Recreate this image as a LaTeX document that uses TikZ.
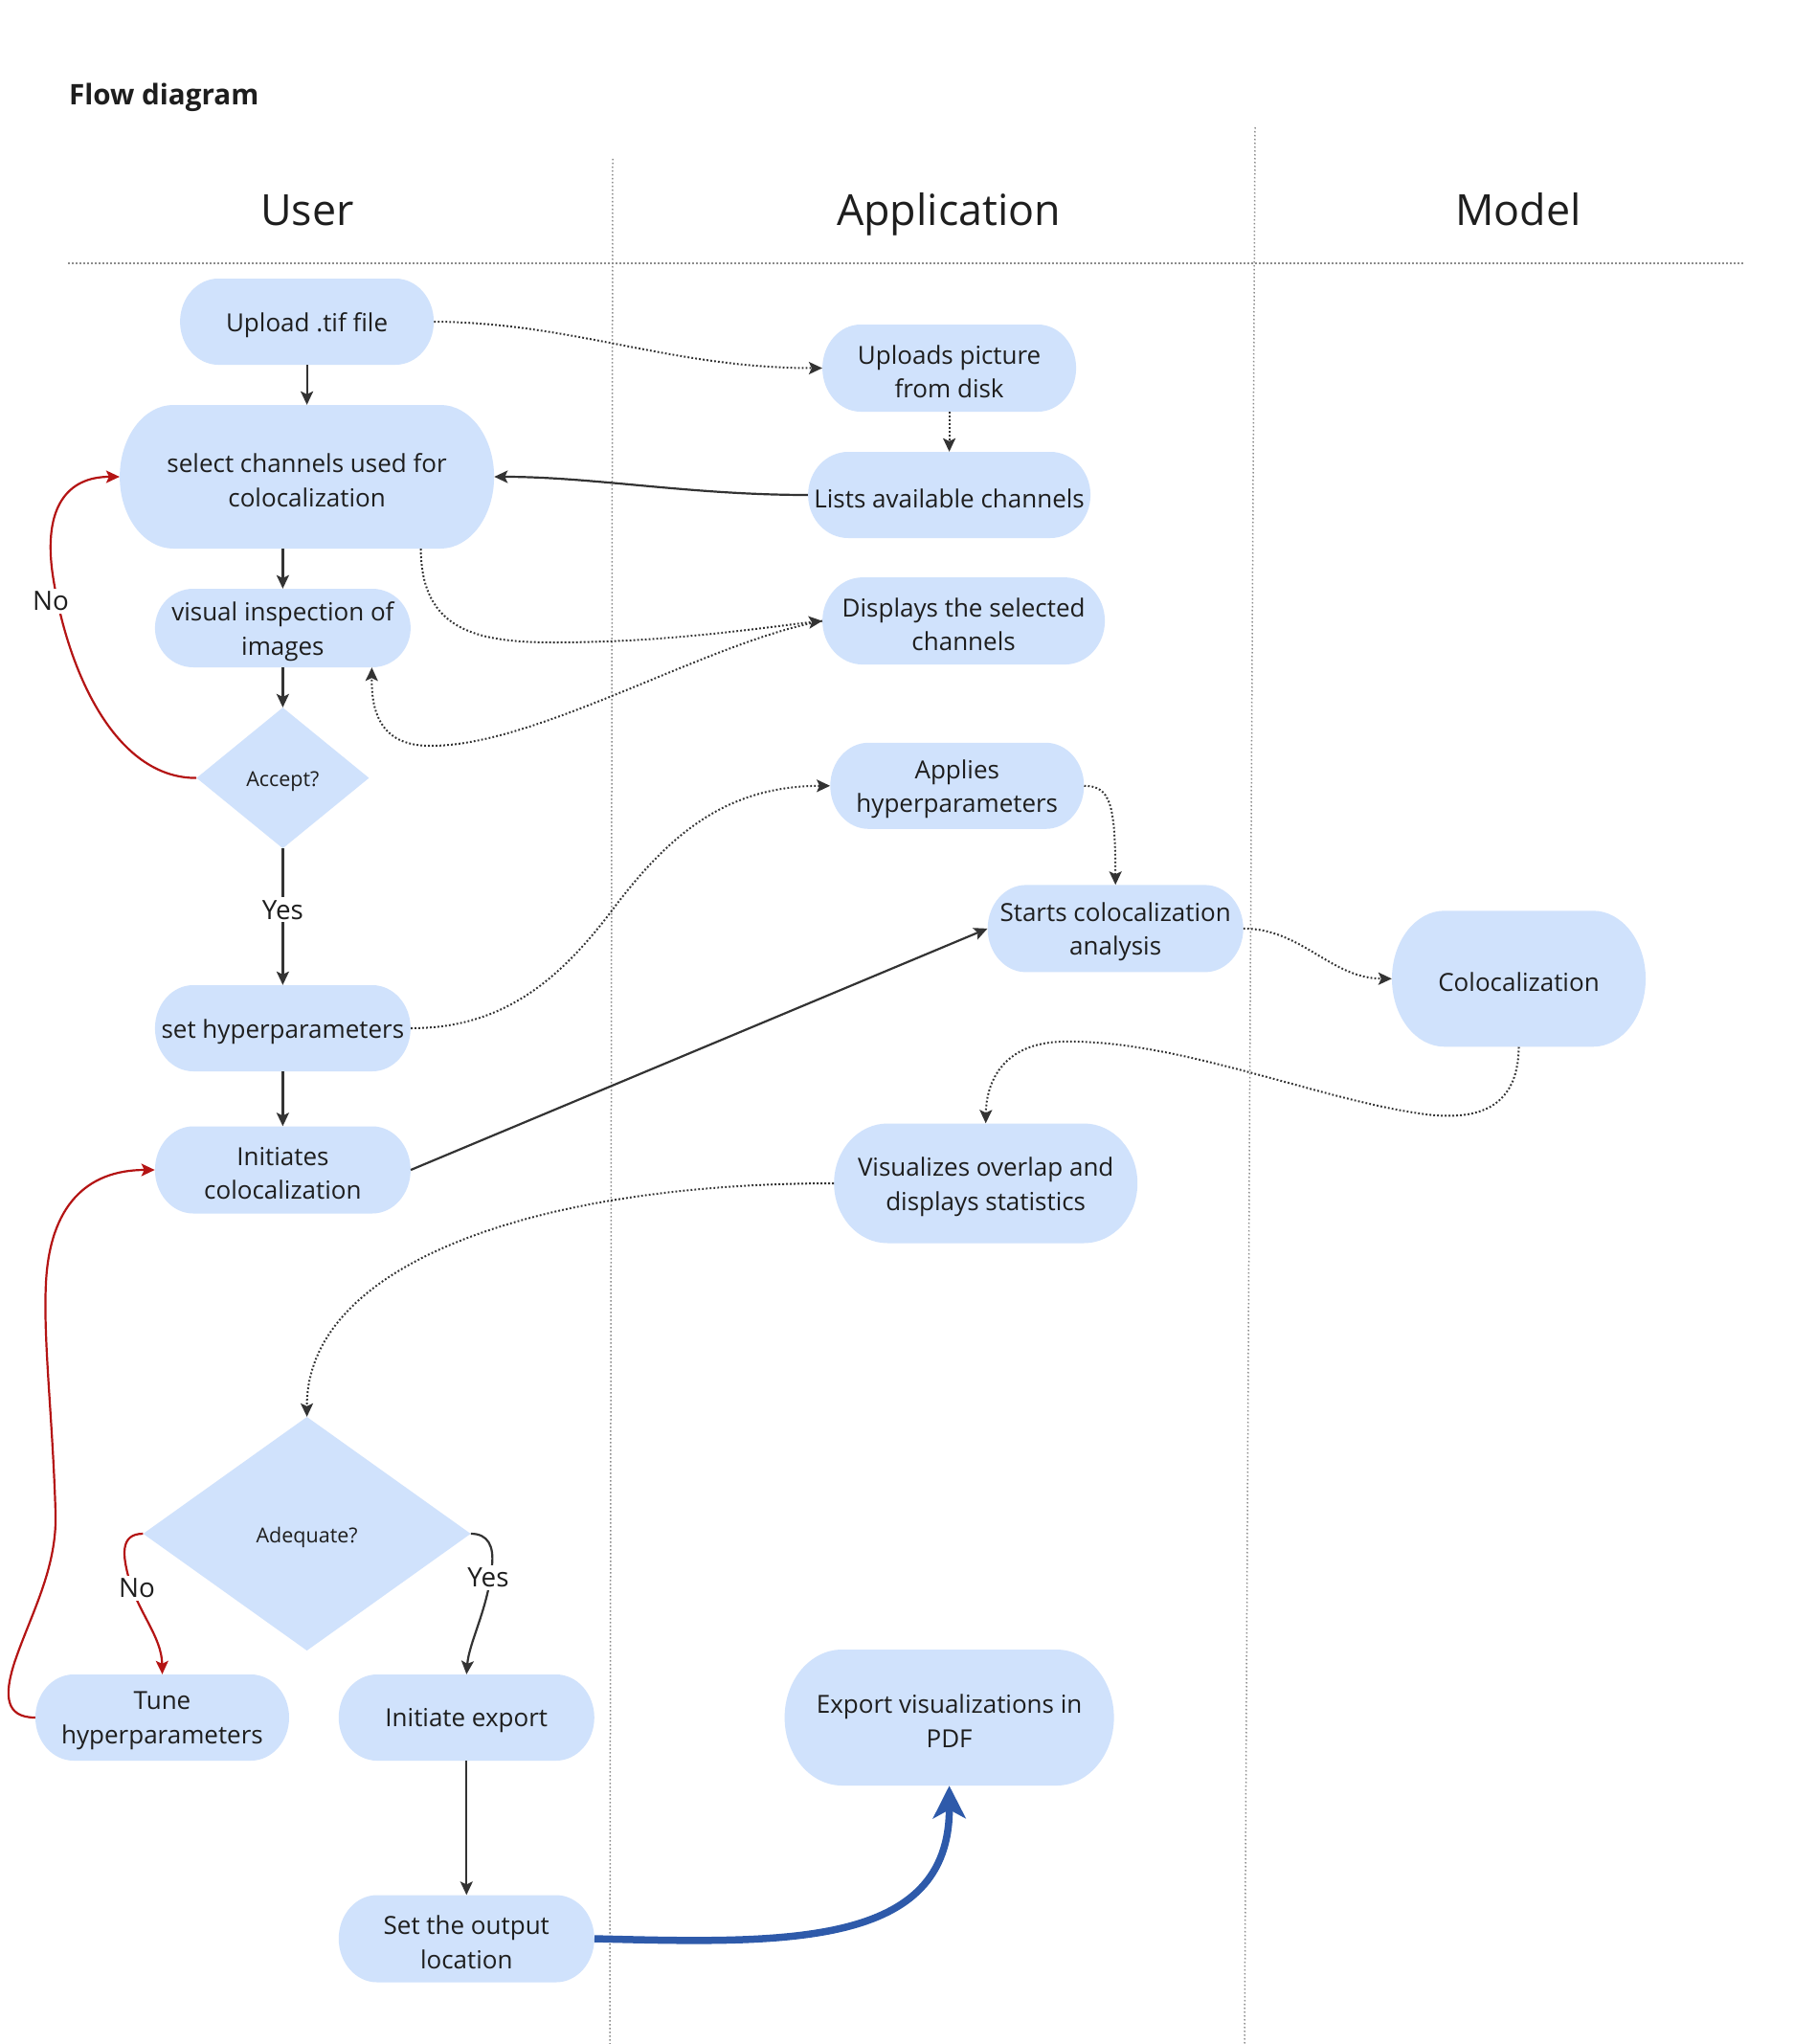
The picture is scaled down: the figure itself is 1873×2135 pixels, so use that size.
\documentclass[tikz,border=0pt]{standalone}
\usepackage{fontspec}
\setmainfont{Open Sans}
\usetikzlibrary{arrows.meta,calc}
\definecolor{boxc}{RGB}{208,226,252}
\definecolor{linec}{RGB}{51,51,51}
\definecolor{redc}{RGB}{180,20,20}
\definecolor{bluec}{RGB}{46,90,170}
\definecolor{sepc}{RGB}{140,140,140}
\definecolor{textc}{RGB}{30,30,30}
\newcommand\capnode[7]{%
  \fill[boxc] ({#2-#4/2+#6},{#3+#5/2}) -- ({#2+#4/2-#6},{#3+#5/2})
     arc[start angle=90,end angle=-90,x radius=#6,y radius=#5/2]
     -- ({#2-#4/2+#6},{#3-#5/2})
     arc[start angle=270,end angle=90,x radius=#6,y radius=#5/2] -- cycle;
  \node[minimum width=#4pt,minimum height=#5pt,inner sep=0pt] (#1) at (#2,#3) {};
  \node[txt] (#1-t) at ($(#1.center)+(0,-3.5)$) {#7};
}
\newcommand\dianode[6]{%
  \fill[boxc] ({#2-#4/2},#3) -- (#2,{#3+#5/2}) -- ({#2+#4/2},#3) -- (#2,{#3-#5/2}) -- cycle;
  \node[minimum width=#4pt,minimum height=#5pt,inner sep=0pt] (#1) at (#2,#3) {};
  \node[dtxt] (#1-t) at ($(#1.center)+(0,-3.5)$) {#6};
}
\begin{document}
\begin{tikzpicture}[x=1pt,y=1pt,
  txt/.style={align=center,text=textc,inner sep=0pt,font=\fontsize{26}{35.5}\selectfont},
  dtxt/.style={align=center,text=textc,inner sep=0pt,font=\fontsize{21.5}{28}\selectfont},
  hdr/.style={text=textc,inner sep=0pt,anchor=base,font=\fontsize{44.8}{52}\selectfont},
  lbl/.style={fill=white,text=textc,inner sep=3pt,font=\fontsize{27.8}{32}\selectfont},
  sep/.style={draw=sepc,line width=1.5pt,dash pattern=on 1.5pt off 2.5pt},
  solidarr/.style={draw=linec,line width=2.2pt,-{Stealth[length=14pt,width=13pt,inset=3pt]}},
  dotarr/.style={draw=linec,line width=2pt,dash pattern=on 1.8pt off 2.2pt,-{Stealth[length=14pt,width=13pt,inset=3pt]}},
  redarr/.style={draw=redc,line width=2.2pt,-{Stealth[length=14pt,width=13pt,inset=3pt]}},
  bluearr/.style={draw=bluec,line width=7.5pt,-{Stealth[length=34pt,width=34pt,inset=9pt]}}
]
\fill[white] (0,0) rectangle (1873,-2135);
\useasboundingbox (0,0) rectangle (1873,-2135);

% separators
\draw[sep] (71,-275) -- (1821,-275);
\draw[sep] (640,-166) -- (637,-2135);
\draw[sep] (1311,-133) -- (1300,-2135);

% title and headers
\node[anchor=base west,text=textc,inner sep=0pt,font=\bfseries\fontsize{29.6}{35}\selectfont] (title) at (72,-110) {Flow diagram};
\node[hdr] (hUser) at (321,-236) {User};
\node[hdr] (hApp) at (991,-236) {Application};
\node[hdr] (hModel) at (1586,-236) {Model};

% user column
\capnode{up}{320.6}{-336}{265}{90}{40}{Upload .tif file}
\capnode{sel}{320.6}{-498}{391}{150}{56}{select channels used for\\colocalization}
\capnode{vis}{295.4}{-656}{267}{82}{40}{visual inspection of\\images}
\dianode{acc}{295.4}{-812.6}{180}{147}{Accept?}
\capnode{hyp}{295.4}{-1074}{267}{90}{40}{set hyperparameters}
\capnode{ini}{295.4}{-1222}{267}{91}{40}{Initiates\\colocalization}
\dianode{ade}{320.6}{-1602}{342}{244}{Adequate?}
\capnode{tune}{169.5}{-1794}{265}{90}{40}{Tune\\hyperparameters}
\capnode{exp}{487.3}{-1794}{267}{90}{40}{Initiate export}
\capnode{out}{487.3}{-2025}{267}{91}{40}{Set the output\\location}

% application column
\capnode{upl}{991.6}{-384.5}{265}{91}{40}{Uploads picture\\from disk}
\capnode{lst}{991.6}{-517}{295}{90}{42}{Lists available channels}
\capnode{dis}{1006.6}{-648.6}{295}{91}{42}{Displays the selected\\channels}
\capnode{app}{999.8}{-820.8}{265}{90}{40}{Applies\\hyperparameters}
\capnode{sta}{1165.2}{-969.9}{267}{91}{40}{Starts colocalization\\analysis}
\capnode{viz}{1029.7}{-1236}{317}{125}{56}{Visualizes overlap and\\displays statistics}
\capnode{pdf}{991.6}{-1794}{344}{142}{60}{Export visualizations in\\PDF}

% model column
\capnode{col}{1586.5}{-1022.3}{265}{142}{55}{Colocalization}

% connectors
\draw[solidarr] (up.south) -- (sel.north);
\draw[dotarr] (up.east) .. controls (600,-337) and (700,-384.5) .. (upl.west);
\draw[dotarr] (upl.south) -- (lst.north);
\draw[solidarr] (lst.west) .. controls (720,-517) and (620,-498) .. (sel.east);
\draw[solidarr] (vis.north |- sel.south) -- (vis.north);
\draw[dotarr] ($(sel.south)+(119,0)$) .. controls (440,-660) and (500,-671) .. (580,-671)
   .. controls (700,-671) and (800,-655) .. (dis.west);
\draw[dotarr] (dis.west) .. controls (740,-670) and (560,-780) .. (449,-779)
   .. controls (395,-779) and (388,-740) .. ($(vis.south)+(93,0)$);
\draw[solidarr] (vis.south) -- (acc.north);
\draw[redarr] (acc.west) .. controls (120,-813) and (70,-700) .. (55,-600)
   .. controls (45,-530) and (70,-498) .. (sel.west);
\node[lbl] (noA) at (53,-628) {No};
\draw[solidarr] (acc.south) -- node[lbl,pos=0.45] (yesA) {Yes} (hyp.north);
\draw[dotarr] (hyp.east) .. controls (520,-1074) and (580,-1030) .. (640,-950)
   .. controls (700,-870) and (760,-821) .. (app.west);
\draw[solidarr] (hyp.south) -- (ini.north);
\draw[solidarr] (ini.east) -- (sta.west);
\draw[dotarr] (app.east) .. controls (1160,-821) and (1165,-840) .. (sta.north);
\draw[dotarr] (sta.east) .. controls (1360,-970) and (1390,-1022) .. (col.west);
\draw[dotarr] (col.south) .. controls (1586,-1160) and (1540,-1170) .. (1490,-1164)
   .. controls (1380,-1150) and (1230,-1085) .. (1109,-1088)
   .. controls (1040,-1090) and (1030,-1140) .. (viz.north);
\draw[dotarr] (viz.west) .. controls (560,-1236) and (320,-1320) .. (ade.north);
\draw[redarr] (ade.west) .. controls (125,-1602) and (128,-1625) .. (135,-1650)
   .. controls (145,-1685) and (169,-1710) .. (tune.north);
\node[lbl] (noB) at (143,-1659) {No};
\draw[solidarr] (ade.east) .. controls (510,-1602) and (516,-1615) .. (514,-1635)
   .. controls (510,-1680) and (490,-1715) .. (exp.north);
\node[lbl] (yesB) at (510,-1648) {Yes};
\draw[redarr] (tune.west) .. controls (5,-1794) and (5,-1770) .. (14,-1740)
   .. controls (30,-1690) and (60,-1640) .. (58,-1580)
   .. controls (55,-1480) and (45,-1400) .. (48,-1340)
   .. controls (52,-1260) and (90,-1222) .. (ini.west);
\draw[solidarr,line width=1.8pt] (exp.south) -- (out.north);
\draw[bluearr] (out.east) .. controls (820,-2030) and (992,-2035) .. (pdf.south);
\end{tikzpicture}
\end{document}
